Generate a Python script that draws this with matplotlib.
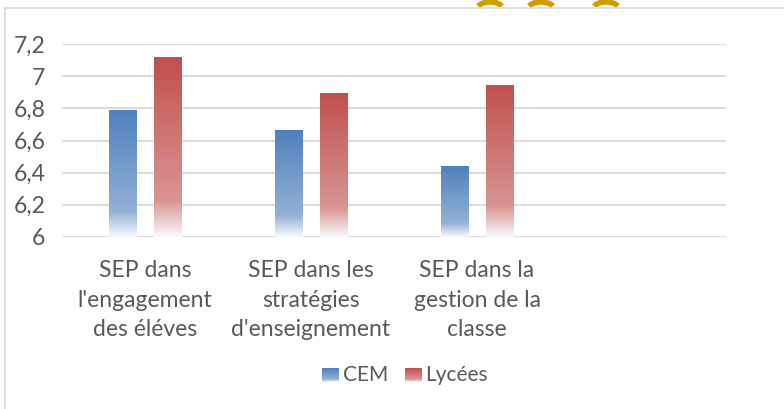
import numpy as np
import matplotlib.pyplot as plt
from matplotlib.colors import to_rgb
from matplotlib.patches import Arc
from matplotlib.lines import Line2D

# Data
categories = ["SEP dans\nl'engagement\ndes éléves",
              "SEP dans les\nstratégies\nd'enseignement",
              "SEP dans la\ngestion de la\nclasse",
              ""]
cem = [6.79, 6.665, 6.44]
lycees = [7.12, 6.895, 6.945]
series_names = ['CEM', 'Lycées']
yticks = [6, 6.2, 6.4, 6.6, 6.8, 7, 7.2]
ytick_labels = ['6', '6,2', '6,4', '6,6', '6,8', '7', '7,2']

W, H = 784, 409
TEXT = '#595959'
GRID = '#D9D9D9'
COLORS = ['#4F81BD', '#C0504D']
LIGHT = ['#93B1D6', '#D99593']
plt.rcParams['font.family'] = ['Lato', 'DejaVu Sans']


def gradient(base, light, n=200):
    # top = base colour, fading to a lighter tint, then white at the bottom
    b, l, w = np.array(to_rgb(base)), np.array(to_rgb(light)), np.array([0.97, 0.98, 0.99])
    t = np.linspace(0, 1, n)[:, None]
    g = np.where(t < 0.8, b + (l - b) * (t / 0.8), l + (w - l) * ((t - 0.8) / 0.2))
    return g[:, None, :]


fig = plt.figure(figsize=(W / 100, H / 100), dpi=100)

# chart frame (only top and left edges visible in the crop)
fig.add_artist(Line2D([5 / W, 1], [1 - 8 / H, 1 - 8 / H], color=GRID, lw=1.2))
fig.add_artist(Line2D([5 / W, 5 / W], [0, 1 - 8 / H], color=GRID, lw=1.2))

# orange marks peeking in at the top
for cx in [490, 541, 606]:
    fig.add_artist(Arc((cx / W, 1 - 9 / H), 26 / W, 14 / H, theta1=25, theta2=155,
                       color='#D39B00', lw=4, transform=fig.transFigure))

ax = fig.add_axes([62 / W, 1 - 236.7 / H, 664 / W, 192.4 / H])

x = np.arange(len(categories))
bw = 0.166
off = 0.135
for k, vals in enumerate([cem, lycees]):
    for i, v in enumerate(vals):
        xc = x[i] + (-off if k == 0 else off)
        ax.imshow(gradient(COLORS[k], LIGHT[k]), extent=(xc - bw / 2, xc + bw / 2, 6, v),
                  aspect='auto', interpolation='bilinear', zorder=3)
ax.set_xlim(-0.5, 3.5)
ax.set_ylim(6, 7.2)

ax.set_yticks(yticks)
ax.set_yticklabels(ytick_labels)
ax.set_xticks(x)
ax.set_xticklabels(categories, linespacing=1.5)
ax.tick_params(axis='both', length=0, colors=TEXT, labelsize=16.5)
ax.tick_params(axis='y', pad=12)
ax.tick_params(axis='x', pad=17)
ax.grid(axis='y', color=GRID, lw=1.3, zorder=0)
ax.set_axisbelow(True)
for s in ax.spines.values():
    s.set_visible(False)

# legend swatches with the same gradient
for k, (sx, tx) in enumerate([(322, 343), (405, 425)]):
    lax = fig.add_axes([sx / W, 1 - 382 / H, 17 / W, 14 / H])
    lax.imshow(gradient(COLORS[k], LIGHT[k]), aspect='auto', extent=(0, 1, 0, 1))
    lax.axis('off')
    fig.text(tx / W, 1 - 375 / H, series_names[k], color=TEXT, fontsize=15,
             va='center', ha='left')

fig.savefig('out.png', dpi=100, facecolor='white')
